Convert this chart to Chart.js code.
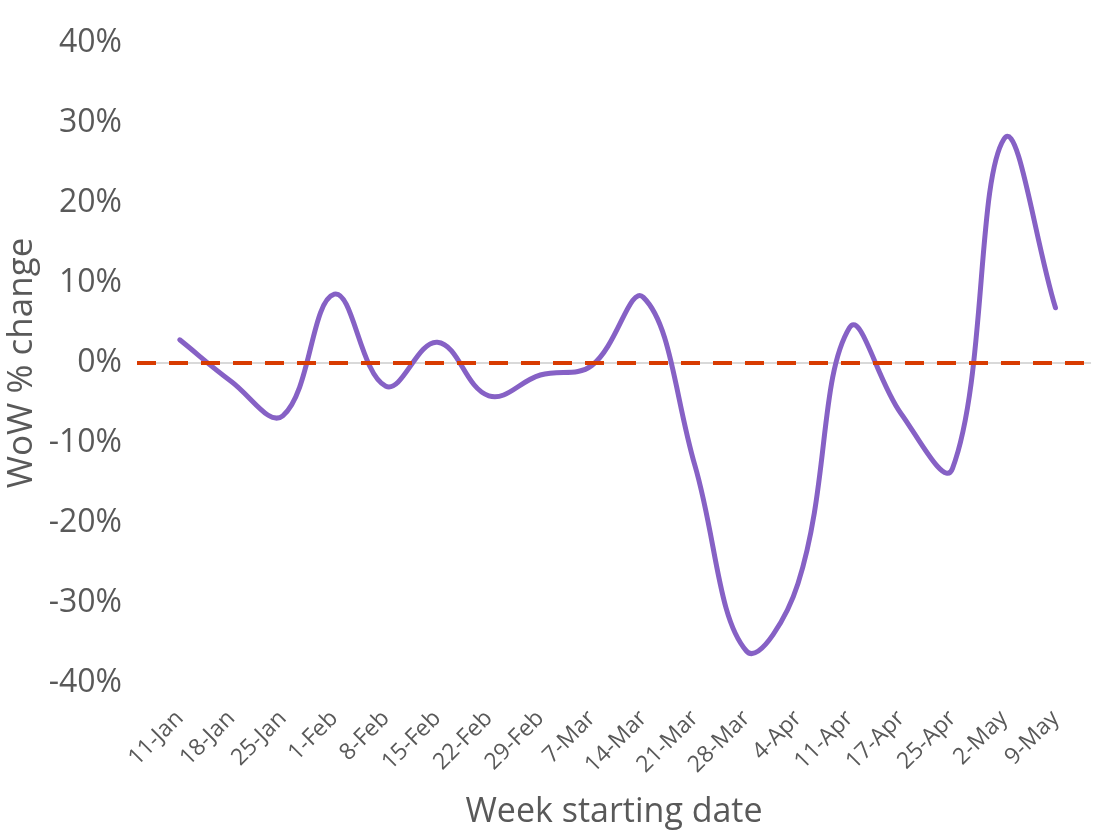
<!DOCTYPE html>
<html>
<head>
<meta charset="utf-8">
<script src="https://cdn.jsdelivr.net/npm/chart.js@4"></script>
<style>
  html, body { margin: 0; padding: 0; background: #ffffff; }
  #wrap { width: 1097px; height: 836px; }
</style>
</head>
<body>
<div id="wrap"><canvas id="c" width="1097" height="836"></canvas></div>
<script>
// Week starting dates and week-on-week % change
const weeks = ['11-Jan', '18-Jan', '25-Jan', '1-Feb', '8-Feb', '15-Feb', '22-Feb', '29-Feb', '7-Mar',
               '14-Mar', '21-Mar', '28-Mar', '4-Apr', '11-Apr', '17-Apr', '25-Apr', '2-May', '9-May'];
const wowChange = [2.9, -2.3, -6.6, 8.6, -2.9, 2.6, -4.1, -1.5, -0.3,
                   8.2, -12.8, -36.0, -27.6, 4.4, -6.3, -13.2, 28.0, 6.9];
const yTicks = [-40, -30, -20, -10, 0, 10, 20, 30, 40];

const textGrey = '#595959';
const fontFamily = '"Open Sans", "Noto Sans", sans-serif';

// Dashed reference line at 0%
const zeroLine = {
  id: 'zeroLine',
  afterDatasetsDraw(chart) {
    const { ctx, chartArea, scales } = chart;
    const y = scales.y.getPixelForValue(0);
    ctx.save();
    ctx.strokeStyle = '#D83B01';
    ctx.lineWidth = 4;
    ctx.setLineDash([19, 13]);
    ctx.beginPath();
    ctx.moveTo(chartArea.left, y);
    ctx.lineTo(chartArea.right, y);
    ctx.stroke();
    ctx.restore();
  }
};

new Chart(document.getElementById('c'), {
  type: 'line',
  data: {
    datasets: [{
      data: wowChange.map((v, i) => ({ x: i, y: v })),
      borderColor: '#8661C5',
      borderWidth: 5,
      borderCapStyle: 'round',
      borderJoinStyle: 'round',
      pointRadius: 0,
      tension: 0.4,
      fill: false
    }]
  },
  options: {
    responsive: false,
    animation: false,
    layout: { padding: { top: 43, right: 0, left: 0, bottom: 0 } },
    plugins: { legend: { display: false }, tooltip: { enabled: false } },
    scales: {
      x: {
        type: 'linear',
        min: -0.83,
        max: 17.69,
        afterBuildTicks(scale) { scale.ticks = weeks.map((_, i) => ({ value: i })); },
        afterFit(scale) { scale.height = 153; },
        grid: { display: false, drawTicks: false },
        border: { display: false },
        ticks: {
          autoSkip: false,
          minRotation: 45,
          maxRotation: 45,
          padding: 22,
          color: textGrey,
          font: { family: fontFamily, size: 23 },
          callback: (v) => weeks[v]
        },
        title: {
          display: true,
          text: 'Week starting date',
          color: textGrey,
          font: { family: fontFamily, size: 34 },
          padding: { top: 0, bottom: 3 }
        }
      },
      y: {
        min: -40,
        max: 40,
        afterBuildTicks(scale) { scale.ticks = yTicks.map(v => ({ value: v })); },
        afterFit(scale) { scale.width = 137; },
        grid: {
          drawTicks: false,
          lineWidth: 2,
          color: (c) => (c.tick && c.tick.value === 0 ? '#d9d9d9' : 'rgba(0,0,0,0)')
        },
        border: { display: false },
        ticks: {
          padding: 15,
          color: textGrey,
          font: { family: fontFamily, size: 32 },
          callback: (v) => v + '%'
        },
        title: {
          display: true,
          text: 'WoW % change',
          color: textGrey,
          font: { family: fontFamily, size: 35 },
          padding: { top: 1, bottom: 0 }
        }
      }
    }
  },
  plugins: [zeroLine]
});
</script>
</body>
</html>
